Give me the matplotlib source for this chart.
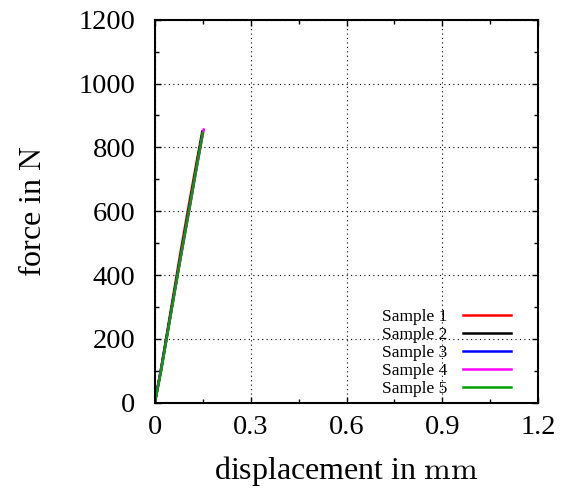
import matplotlib.pyplot as plt
from matplotlib.ticker import MultipleLocator

# displacement (mm) and force (N) per sample
disp_1 = [0.0, 0.02, 0.05, 0.08, 0.11, 0.13, 0.148]
force_1 = [0, 110, 290, 470, 640, 750, 848]
disp_2 = [0.0, 0.02, 0.05, 0.08, 0.11, 0.13, 0.150]
force_2 = [0, 105, 280, 455, 625, 740, 850]
disp_3 = [0.0, 0.02, 0.05, 0.08, 0.11, 0.13, 0.150]
force_3 = [0, 108, 282, 455, 622, 735, 848]
disp_4 = [0.0, 0.02, 0.05, 0.08, 0.11, 0.13, 0.153]
force_4 = [0, 104, 276, 448, 615, 730, 856]
disp_5 = [0.0, 0.02, 0.05, 0.08, 0.11, 0.13, 0.150]
force_5 = [0, 102, 278, 452, 620, 735, 845]

series = [
    ("Sample 1", disp_1, force_1, "#ff0000"),
    ("Sample 2", disp_2, force_2, "#000000"),
    ("Sample 3", disp_3, force_3, "#0000ff"),
    ("Sample 4", disp_4, force_4, "#ff00ff"),
    ("Sample 5", disp_5, force_5, "#00a000"),
]

plt.rcParams['font.family'] = ['Liberation Serif', 'DejaVu Serif']
plt.rcParams['mathtext.fontset'] = 'cm'

fig = plt.figure(figsize=(5.63, 4.93), dpi=100)
ax = fig.add_axes([0.275, 0.183, 0.681, 0.777])

for name, x, y, c in series:
    ax.plot(x, y, color=c, lw=1.8, label=name)

ax.set_xlim(0, 1.2)
ax.set_ylim(0, 1200)
ax.xaxis.set_major_locator(MultipleLocator(0.3))
ax.xaxis.set_minor_locator(MultipleLocator(0.15))
ax.yaxis.set_major_locator(MultipleLocator(200))
ax.yaxis.set_minor_locator(MultipleLocator(100))
ax.xaxis.set_major_formatter(plt.FuncFormatter(lambda v, p: "0" if v == 0 else f"{v:.1f}"))
ax.tick_params(which='both', direction='in', top=True, right=True, labelsize=20.5)
ax.tick_params(axis='y', pad=14)
ax.tick_params(axis='x', pad=9)
ax.tick_params(which='major', length=4.5, width=1)
ax.tick_params(which='minor', length=3, width=1)
ax.grid(True, which='major', color='black', linestyle=(0, (1, 3)), linewidth=0.8)
for s in ax.spines.values():
    s.set_linewidth(1.5)

ax.set_xlabel("displacement in $\\mathrm{mm}$", fontsize=23, labelpad=10)
ax.set_ylabel("force in $\\mathrm{N}$", fontsize=23, labelpad=22)

leg = ax.legend(loc='lower right', bbox_to_anchor=(0.93, 0.015), fontsize=12.5,
                frameon=False, markerfirst=False, handlelength=2.8,
                labelspacing=0.1, borderaxespad=0, borderpad=0,
                handletextpad=0.9)

fig.savefig("out.png", dpi=100)
